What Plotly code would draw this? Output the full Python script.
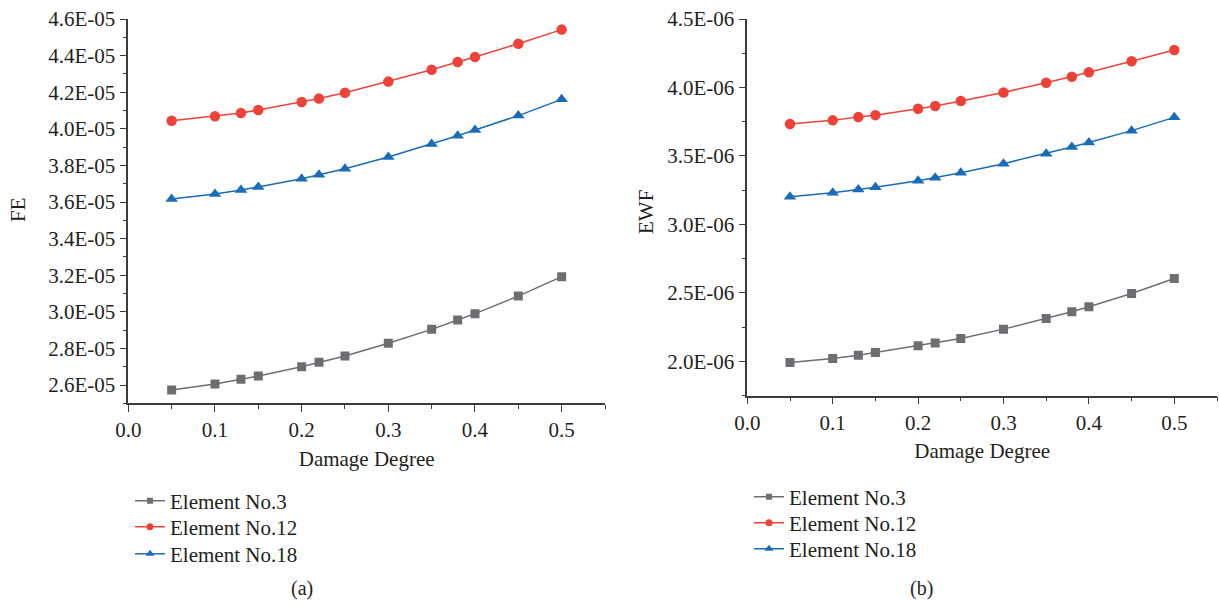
import plotly.graph_objects as go

damage = [0.05, 0.1, 0.13, 0.15, 0.2, 0.22, 0.25, 0.3, 0.35, 0.38, 0.4, 0.45, 0.5]

fe_no3 = [2.573e-5, 2.605e-5, 2.631e-5, 2.649e-5, 2.700e-5, 2.724e-5, 2.758e-5,
          2.828e-5, 2.904e-5, 2.955e-5, 2.990e-5, 3.086e-5, 3.192e-5]
fe_no12 = [4.044e-5, 4.068e-5, 4.086e-5, 4.103e-5, 4.146e-5, 4.165e-5, 4.197e-5,
           4.258e-5, 4.323e-5, 4.365e-5, 4.392e-5, 4.465e-5, 4.542e-5]
fe_no18 = [3.616e-5, 3.644e-5, 3.665e-5, 3.682e-5, 3.727e-5, 3.749e-5, 3.782e-5,
           3.846e-5, 3.917e-5, 3.962e-5, 3.993e-5, 4.072e-5, 4.161e-5]

ewf_no3 = [1.993e-6, 2.022e-6, 2.046e-6, 2.066e-6, 2.114e-6, 2.134e-6, 2.168e-6,
           2.236e-6, 2.314e-6, 2.363e-6, 2.399e-6, 2.496e-6, 2.606e-6]
ewf_no12 = [3.733e-6, 3.760e-6, 3.784e-6, 3.798e-6, 3.845e-6, 3.865e-6, 3.901e-6,
            3.964e-6, 4.035e-6, 4.079e-6, 4.111e-6, 4.191e-6, 4.274e-6]
ewf_no18 = [3.203e-6, 3.232e-6, 3.256e-6, 3.271e-6, 3.319e-6, 3.341e-6, 3.378e-6,
            3.444e-6, 3.517e-6, 3.566e-6, 3.598e-6, 3.685e-6, 3.782e-6]

series_names = ["Element No.3", "Element No.12", "Element No.18"]

x_tickvals = [0.0, 0.1, 0.2, 0.3, 0.4, 0.5]
x_ticktext = ["0.0", "0.1", "0.2", "0.3", "0.4", "0.5"]

fe_tickvals = [2.6e-5, 2.8e-5, 3.0e-5, 3.2e-5, 3.4e-5, 3.6e-5, 3.8e-5, 4.0e-5, 4.2e-5, 4.4e-5, 4.6e-5]
fe_ticktext = ["2.6E-05", "2.8E-05", "3.0E-05", "3.2E-05", "3.4E-05", "3.6E-05",
               "3.8E-05", "4.0E-05", "4.2E-05", "4.4E-05", "4.6E-05"]
ewf_tickvals = [2.0e-6, 2.5e-6, 3.0e-6, 3.5e-6, 4.0e-6, 4.5e-6]
ewf_ticktext = ["2.0E-06", "2.5E-06", "3.0E-06", "3.5E-06", "4.0E-06", "4.5E-06"]

colors = ["#6d6e72", "#ee4238", "#1a6cb7"]
symbols = ["square", "circle", "triangle-up"]
msizes = [9, 10.5, 11]
lsizes = [6, 7, 8]

FONT = "Liberation Serif, Times New Roman, serif"
TXT = "#231f20"
AX = "#3c3c3c"

fig = go.Figure()

# one single-entry legend per series and panel, to reproduce the tight row spacing
panels = [
    ("x", "y", ["legend", "legend2", "legend3"], [fe_no3, fe_no12, fe_no18]),
    ("x2", "y2", ["legend4", "legend5", "legend6"], [ewf_no3, ewf_no12, ewf_no18]),
]
for xa, ya, legs, data in panels:
    for i, vals in enumerate(data):
        fig.add_trace(go.Scatter(
            x=damage, y=vals, mode="lines+markers", xaxis=xa, yaxis=ya,
            line=dict(color=colors[i], width=1.5),
            marker=dict(symbol=symbols[i], size=msizes[i], color=colors[i]),
            showlegend=False, hoverinfo="x+y"))
    for i in range(3):
        fig.add_trace(go.Scatter(
            x=[None], y=[None], mode="lines+markers", xaxis=xa, yaxis=ya,
            name=series_names[i], legend=legs[i],
            line=dict(color=colors[i], width=1.5),
            marker=dict(symbol=symbols[i], size=lsizes[i], color=colors[i])))

common_x = dict(
    range=[0, 0.55], tickvals=x_tickvals, ticktext=x_ticktext, automargin=False,
    showline=True, linecolor=AX, linewidth=1.5, ticks="outside", ticklen=7,
    tickwidth=1.3, tickcolor=AX, showgrid=False, zeroline=False,
    minor=dict(dtick=0.05, ticks="outside", ticklen=3.5, tickwidth=1.2, tickcolor=AX, showgrid=False),
    tickfont=dict(family=FONT, size=21, color=TXT),
    title=dict(text="Damage Degree", font=dict(family=FONT, size=21, color=TXT), standoff=10),
)
common_y = dict(
    showline=True, linecolor=AX, linewidth=1.5, ticks="outside", ticklen=7, automargin=False,
    tickwidth=1.3, tickcolor=AX, showgrid=False, zeroline=False,
    tickfont=dict(family=FONT, size=21, color=TXT),
)


def leg(xpx, ypx):
    return dict(x=xpx / 1219, y=1 - ypx / 605, xanchor="left", yanchor="middle",
                font=dict(family=FONT, size=21, color=TXT), tracegroupgap=0,
                bgcolor="rgba(0,0,0,0)", itemwidth=30)


fig.update_layout(
    width=1219, height=605,
    margin=dict(l=0, r=0, t=0, b=0, autoexpand=False),
    paper_bgcolor="white", plot_bgcolor="white",
    font=dict(family=FONT, color=TXT),
    xaxis=dict(domain=[128.3 / 1219, 605 / 1219], anchor="y", **common_x),
    yaxis=dict(domain=[1 - 403.3 / 605, 1 - 19 / 605], anchor="x",
               range=[2.5e-5, 4.6e-5], tickvals=fe_tickvals, ticktext=fe_ticktext,
               minor=dict(dtick=1e-6, tick0=0, ticks="outside", ticklen=3.5, tickwidth=1.2, tickcolor=AX, showgrid=False),
               **common_y),
    xaxis2=dict(domain=[747.3 / 1219, 1217 / 1219], anchor="y2", **common_x),
    yaxis2=dict(domain=[1 - 395.7 / 605, 1 - 19 / 605], anchor="x2",
                range=[1.75e-6, 4.5e-6], tickvals=ewf_tickvals, ticktext=ewf_ticktext,
                minor=dict(dtick=2.5e-7, tick0=0, ticks="outside", ticklen=3.5, tickwidth=1.2, tickcolor=AX, showgrid=False),
                **common_y),
    legend=leg(130, 501), legend2=leg(130, 527), legend3=leg(130, 554),
    legend4=leg(749, 497), legend5=leg(749, 523), legend6=leg(749, 549),
    annotations=[
        dict(text="FE", x=18 / 1219, y=1 - 210 / 605, xref="paper", yref="paper",
             xanchor="center", yanchor="middle",
             textangle=-90, showarrow=False, font=dict(family=FONT, size=21, color=TXT)),
        dict(text="EWF", x=646 / 1219, y=1 - 212 / 605, xref="paper", yref="paper",
             xanchor="center", yanchor="middle",
             textangle=-90, showarrow=False, font=dict(family=FONT, size=21, color=TXT)),
        dict(text="(a)", x=302 / 1219, y=1 - 588 / 605, xref="paper", yref="paper",
             xanchor="center", yanchor="middle",
             showarrow=False, font=dict(family=FONT, size=20, color=TXT)),
        dict(text="(b)", x=921 / 1219, y=1 - 588 / 605, xref="paper", yref="paper",
             xanchor="center", yanchor="middle",
             showarrow=False, font=dict(family=FONT, size=20, color=TXT)),
    ],
)

fig.write_html("out.html")
